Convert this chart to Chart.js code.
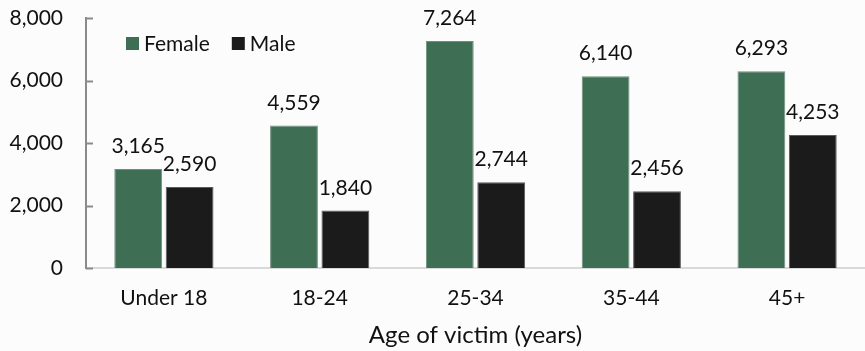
<!DOCTYPE html>
<html>
<head>
<meta charset="utf-8">
<script src="https://cdn.jsdelivr.net/npm/chart.js@4.4.1/dist/chart.umd.min.js"></script>
<style>
  html, body { margin: 0; padding: 0; background: #fcfcfc; }
  #wrap { width: 865px; height: 351px; position: relative; }
</style>
</head>
<body>
<div id="wrap"><canvas id="c"></canvas></div>
<script>
// Victims by age group and sex
const ageGroups = ['Under 18', '18-24', '25-34', '35-44', '45+'];
const femaleCounts = [3165, 4559, 7264, 6140, 6293];
const maleCounts = [2590, 1840, 2744, 2456, 4253];
const yTicks = [0, 2000, 4000, 6000, 8000];

const FONT = "Lato, 'Open Sans', sans-serif";
const GREEN = '#3e6e54';
const BLACK = '#1b1b1b';

// Value labels above each bar
const barLabels = {
  id: 'barLabels',
  afterDatasetsDraw(chart) {
    const ctx = chart.ctx;
    ctx.save();
    ctx.font = `21px ${FONT}`;
    ctx.fillStyle = '#111';
    ctx.textAlign = 'center';
    ctx.textBaseline = 'alphabetic';
    chart.data.datasets.forEach((ds, i) => {
      chart.getDatasetMeta(i).data.forEach((bar, j) => {
        ctx.fillText(ds.data[j].toLocaleString('en-US'), bar.x, bar.y - 16);
      });
    });
    ctx.restore();
  }
};

// Small inward tick marks on the value axis
const innerTicks = {
  id: 'innerTicks',
  afterDraw(chart) {
    const y = chart.scales.y;
    const ctx = chart.ctx;
    ctx.save();
    ctx.strokeStyle = '#8a8a8a';
    ctx.lineWidth = 2;
    yTicks.forEach(v => {
      const py = Math.round(y.getPixelForValue(v)) + 0.5;
      ctx.beginPath();
      ctx.moveTo(y.right, py);
      ctx.lineTo(y.right + 7, py);
      ctx.stroke();
    });
    ctx.restore();
  }
};

// Legend drawn inside the plot area, top left
const innerLegend = {
  id: 'innerLegend',
  afterDraw(chart) {
    const ctx = chart.ctx;
    const area = chart.chartArea;
    ctx.save();
    ctx.font = `21px ${FONT}`;
    ctx.textBaseline = 'middle';
    ctx.textAlign = 'left';
    let x = area.left + 40;
    const cy = area.top + 26;
    chart.data.datasets.forEach(ds => {
      ctx.fillStyle = ds.backgroundColor;
      ctx.fillRect(x, cy - 7, 13, 13);
      ctx.fillStyle = '#111';
      ctx.fillText(ds.label, x + 18, cy);
      x += 18 + ctx.measureText(ds.label).width + 22;
    });
    ctx.restore();
  }
};

new Chart(document.getElementById('c'), {
  type: 'bar',
  data: {
    labels: ageGroups,
    datasets: [
      { label: 'Female', data: femaleCounts, backgroundColor: GREEN, borderColor: '#6f8f7c', borderWidth: 1 },
      { label: 'Male', data: maleCounts, backgroundColor: BLACK, borderColor: '#5a5a5a', borderWidth: 1 }
    ]
  },
  options: {
    responsive: true,
    maintainAspectRatio: false,
    animation: false,
    layout: { padding: { top: 0, right: 0, left: 0, bottom: 0 } },
    datasets: { bar: { categoryPercentage: 0.66, barPercentage: 0.93 } },
    plugins: {
      legend: { display: false },
      tooltip: { enabled: false }
    },
    scales: {
      x: {
        afterFit(scale) { scale.height = 83; },
        grid: { display: false, drawTicks: false },
        border: { display: true, color: '#d9d9d9', width: 2 },
        ticks: { color: '#111', font: { family: FONT, size: 21 }, padding: 18 },
        title: {
          display: true,
          text: 'Age of victim (years)',
          color: '#111',
          font: { family: FONT, size: 24 },
          padding: { top: 0, bottom: 1 }
        }
      },
      y: {
        min: 0,
        max: 8000,
        afterBuildTicks(scale) { scale.ticks = yTicks.map(v => ({ value: v })); },
        afterFit(scale) { scale.width = 86; scale.paddingTop = 18; },
        grid: { display: false, drawTicks: false },
        border: { display: true, color: '#8a8a8a', width: 2 },
        ticks: {
          color: '#111',
          font: { family: FONT, size: 21 },
          padding: 23,
          callback: v => v.toLocaleString('en-US')
        }
      }
    }
  },
  plugins: [barLabels, innerTicks, innerLegend]
});
</script>
</body>
</html>
